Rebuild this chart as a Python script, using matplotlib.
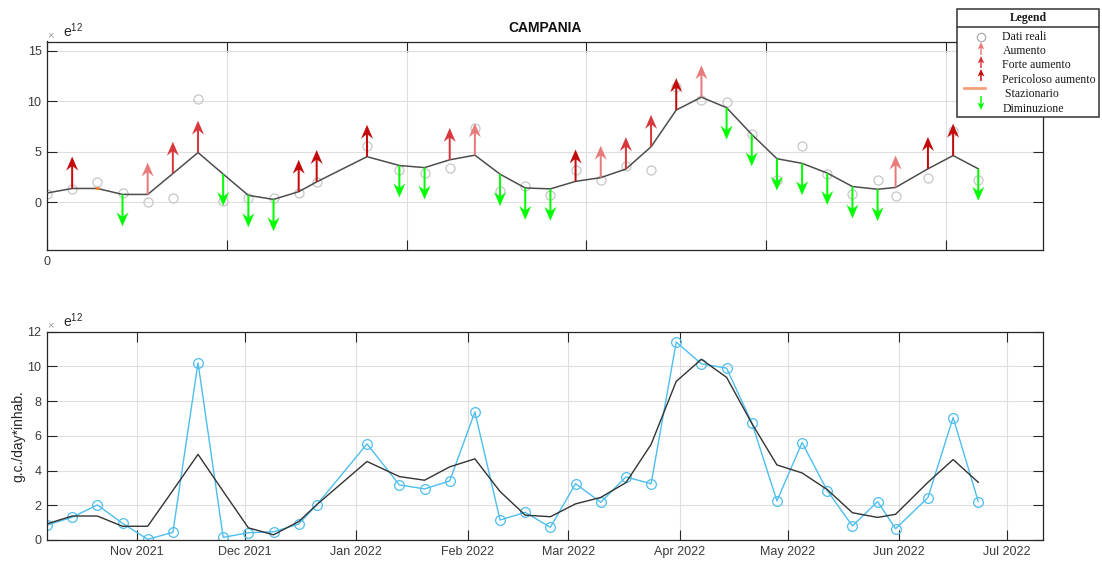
import numpy as np
import matplotlib
matplotlib.use("Agg")
import matplotlib.pyplot as plt
import matplotlib.dates as mdates
from matplotlib.patches import Rectangle

plt.rcParams['font.family'] = ['Liberation Sans', 'DejaVu Sans']
plt.rcParams['mathtext.fontset'] = 'custom'
plt.rcParams['mathtext.rm'] = 'Liberation Sans'
plt.rcParams['mathtext.default'] = 'regular'

# sampling dates
dates = np.array(['2021-10-07', '2021-10-14', '2021-10-21', '2021-10-28', '2021-11-04',
                  '2021-11-11', '2021-11-18', '2021-11-25', '2021-12-02', '2021-12-09',
                  '2021-12-16', '2021-12-21', '2022-01-04', '2022-01-13', '2022-01-20',
                  '2022-01-27', '2022-02-03', '2022-02-10', '2022-02-17', '2022-02-24',
                  '2022-03-03', '2022-03-10', '2022-03-17', '2022-03-24', '2022-03-31',
                  '2022-04-07', '2022-04-14', '2022-04-21', '2022-04-28', '2022-05-05',
                  '2022-05-12', '2022-05-19', '2022-05-26', '2022-05-31', '2022-06-09',
                  '2022-06-16', '2022-06-23'], dtype='datetime64[D]')

# measured values (x 1e12 g.c./day*inhab.)
raw = np.array([0.86, 1.31, 2.02, 0.96, 0.04, 0.44, 10.2, 0.15, 0.42, 0.47,
                0.92, 2.02, 5.53, 3.17, 2.94, 3.40, 7.37, 1.15, 1.59, 0.73,
                3.24, 2.17, 3.63, 3.24, 11.39, 10.14, 9.89, 6.76, 2.25, 5.61,
                2.84, 0.81, 2.21, 0.65, 2.44, 7.05, 2.21])

# smoothed trend
trend = np.array([0.93, 1.38, 1.38, 0.79, 0.79, 2.85, 4.93, 2.80, 0.70, 0.30,
                  1.06, 2.03, 4.52, 3.65, 3.44, 4.21, 4.67, 2.79, 1.43, 1.34,
                  2.08, 2.45, 3.30, 5.50, 9.13, 10.40, 9.36, 6.72, 4.32, 3.86,
                  2.90, 1.57, 1.30, 1.48, 3.32, 4.63, 3.32])

# trend class per week: A aumento, F forte, P pericoloso, S stazionario, D diminuzione
trend_class = ['', 'P', 'S', 'D', 'A', 'F', 'F', 'D', 'D', 'D',
               'P', 'P', 'P', 'D', 'D', 'F', 'A', 'D', 'D', 'D',
               'P', 'A', 'F', 'F', 'P', 'A', 'D', 'D', 'D', 'D',
               'D', 'D', 'D', 'A', 'P', 'P', 'D']

class_labels = {'A': 'Aumento', 'F': 'Forte aumento', 'P': 'Pericoloso aumento',
                'S': 'Stazionario', 'D': 'Diminuzione'}
class_colors = {'A': '#e97a7a', 'F': '#d8383c', 'P': '#c40a0a', 'S': '#f5a07c', 'D': '#00ff00'}
arrow_len = 3.15

days = (dates - dates[0]).astype(int)
cls = np.array(trend_class)

fig = plt.figure(figsize=(11.02, 5.68), dpi=100)
W, H = 1102, 568
ax1 = fig.add_axes([47 / W, 1 - 250 / H, 996 / W, 208.5 / H])
ax2 = fig.add_axes([47 / W, 1 - 540 / H, 996 / W, 208.5 / H])


def style(ax):
    ax.grid(True, color='#dedede', lw=0.8)
    ax.set_axisbelow(True)
    ax.tick_params(direction='in', length=7, width=0.8, top=True, right=True,
                   colors='#262626', labelcolor='#3a3a3a', labelsize=9, pad=4)
    for s in ax.spines.values():
        s.set_color('#262626')
        s.set_linewidth(0.9)
    ax.text(0.004, 1.005, '\u00d7', transform=ax.transAxes, ha='center', va='bottom',
            fontsize=8, color='#9a9a9a')
    ax.text(0.016, 1.005, 'e$^{12}$', transform=ax.transAxes, ha='left', va='bottom',
            fontsize=10, color='#262626')


# top panel: trend arrows
style(ax1)
ax1.plot(days, raw, 'o', mfc='none', mec='#c6c6c6', ms=6.5, mew=0.9, zorder=2)
ax1.plot(days, trend, '-', color='#4d4d4d', lw=1.1, zorder=3)
for c in ['A', 'F', 'P', 'D']:
    m = cls == c
    v = np.full(m.sum(), -arrow_len if c == 'D' else arrow_len)
    ax1.quiver(days[m], trend[m], np.zeros(m.sum()), v, color=class_colors[c],
               angles='xy', scale_units='xy', scale=1, units='dots', width=2.0,
               headwidth=6, headlength=7, headaxislength=5, zorder=4)
m = cls == 'S'
ax1.plot(days[m], trend[m], marker='_', ms=3, mew=2, color='#ff7a20', ls='none', zorder=4)
ax1.set_xlim(0, 277)
ax1.set_ylim(-4.7, 15.9)
ax1.set_yticks([0, 5, 10, 15])
ax1.set_xticks(np.arange(0, 251, 50))
ax1.set_xticklabels(['0', '', '', '', '', ''])
ax1.set_title('CAMPANIA', fontweight='bold', fontsize=10, pad=7, color='#111111')

# bottom panel: raw data and trend
style(ax2)
ax2.plot(dates, raw, '-o', color='#4dbeee', mfc='none', ms=7, mew=0.9, lw=1, zorder=2)
ax2.plot(dates, trend, '-', color='#333333', lw=1, zorder=3)
ax2.set_xlim(dates[0], dates[0] + np.timedelta64(277, 'D'))
ax2.set_ylim(0, 12)
ax2.set_yticks(np.arange(0, 13, 2))
ax2.xaxis.set_major_locator(mdates.MonthLocator())
ax2.xaxis.set_major_formatter(mdates.DateFormatter('%b %Y'))
ax2.set_ylabel('g.c./day*inhab.', fontsize=10, color='#262626')
ax2.yaxis.set_label_coords(-0.022, 0.5)

# legend box
lax = fig.add_axes([957 / W, 1 - 117 / H, 142 / W, 108 / H])
lax.set_xlim(0, 142)
lax.set_ylim(108, 0)
lax.axis('off')
lax.add_patch(Rectangle((0, 0), 1, 1, transform=lax.transAxes, fc='white',
                        ec='#333333', lw=1.1, clip_on=False))
lax.plot([0, 142], [18, 18], color='#333333', lw=1.1)
serif = ['Liberation Serif', 'DejaVu Serif']
lax.text(71, 9.5, 'Legend', ha='center', va='center', fontsize=8.5,
         fontweight='bold', family=serif, color='#1a1a1a')
lax.plot(24, 27.5, 'o', mfc='none', mec='#aaaaaa', ms=6, mew=0.9)
leg_kw = dict(angles='xy', scale_units='xy', scale=1, units='dots', width=1.5,
              headwidth=4.5, headlength=5, headaxislength=4)
lax.quiver([24], [46], [0], [-13], color=class_colors['A'], **leg_kw)
lax.quiver([24], [59], [0], [-12], color=class_colors['F'], **leg_kw)
lax.quiver([24], [72], [0], [-12], color=class_colors['P'], **leg_kw)
lax.plot([7, 28], [79, 79], color=class_colors['S'], lw=2)
lax.quiver([24], [87], [0], [14], color=class_colors['D'], **leg_kw)
rows = [('Dati reali', 27.5, 45.5), (class_labels['A'], 41.5, 45.5),
        (class_labels['F'], 56, 45.5), (class_labels['P'], 71, 45.5),
        (' ' + class_labels['S'], 85, 45.5), (class_labels['D'], 100, 45.5)]
for txt, y, x in rows:
    lax.text(x, y, txt, ha='left', va='center', fontsize=8.5, family=serif,
             color='#1a1a1a')

fig.savefig('out.png', dpi=100)
